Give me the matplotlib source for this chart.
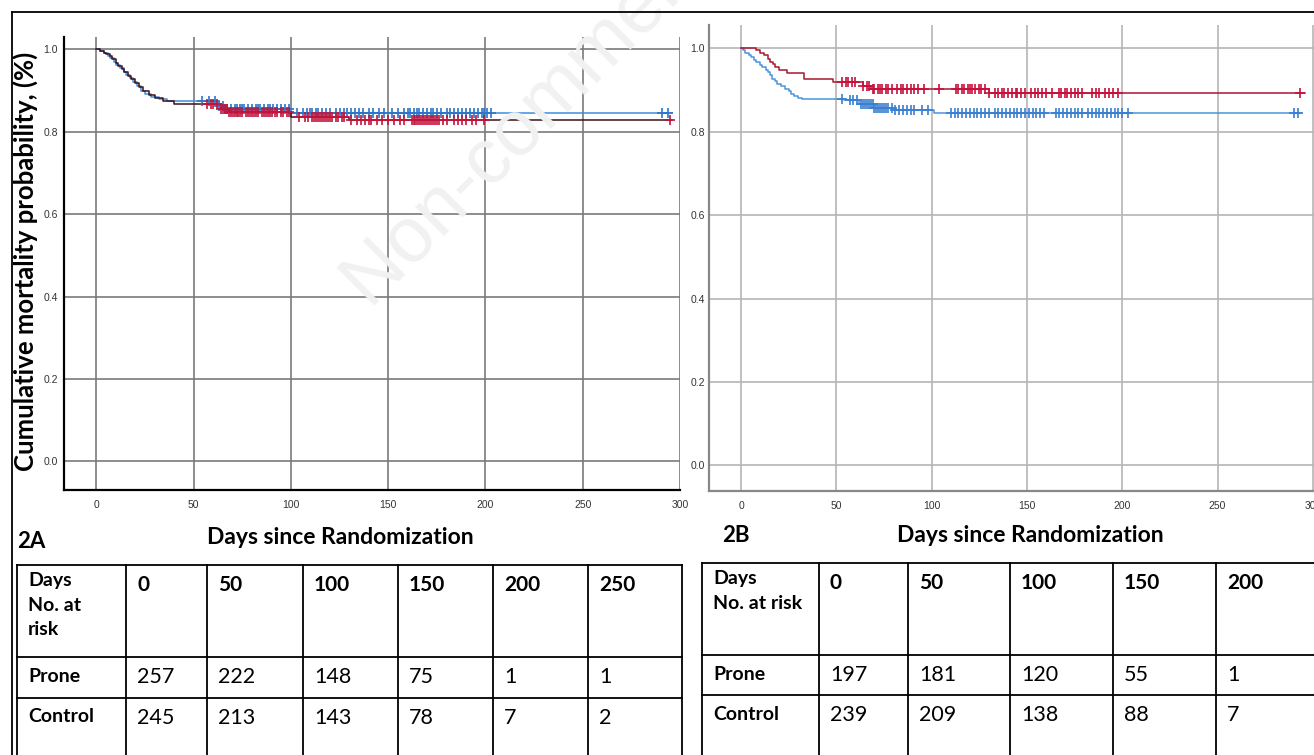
import numpy as np
import matplotlib
matplotlib.use('Agg')
import matplotlib.pyplot as plt

W, H = 1314, 755

# ---- Kaplan-Meier steps ----
# 2A
a_red_t = [0, 2, 4, 5, 7, 8, 10, 11, 13, 14, 16, 18, 20, 22, 24, 27, 30, 34, 40, 64, 68, 100, 130]
a_red_s = [1.0, 0.996, 0.992, 0.988, 0.984, 0.976, 0.968, 0.96, 0.952, 0.944, 0.936, 0.928,
           0.918, 0.908, 0.898, 0.89, 0.882, 0.875, 0.867, 0.855, 0.849, 0.836, 0.828]
a_red_end = 296
a_red_cens = [57, 59, 60, 62, 64, 65, 66, 67, 68, 69, 70, 71, 72, 73, 74, 75, 77, 78, 79, 80,
              81, 82, 83, 85, 86, 87, 88, 89, 90, 92, 93, 95, 96, 98, 99, 104, 107, 109, 111,
              112, 113, 114, 115, 116, 117, 118, 119, 120, 121, 123, 124, 126, 127, 131, 134,
              136, 138, 140, 141, 144, 147, 150, 153, 156, 158, 162, 163, 164, 165, 166, 167,
              168, 169, 170, 171, 172, 173, 174, 175, 176, 178, 180, 184, 186, 188, 190, 193,
              195, 199, 295]

a_blue_t = [0, 2, 4, 6, 7, 9, 10, 12, 14, 15, 17, 19, 21, 23, 25, 28, 32, 36, 62, 66, 100]
a_blue_s = [1.0, 0.996, 0.99, 0.984, 0.978, 0.97, 0.962, 0.954, 0.946, 0.938, 0.93, 0.92,
            0.91, 0.9, 0.892, 0.885, 0.879, 0.875, 0.862, 0.855, 0.845]
a_blue_end = 296
a_blue_cens = [54, 58, 61, 63, 65, 66, 67, 69, 71, 72, 74, 75, 76, 78, 80, 82, 83, 84, 86, 88,
               89, 91, 93, 95, 97, 99, 103, 106, 108, 110, 111, 113, 114, 116, 118, 120, 123,
               125, 127, 129, 131, 133, 135, 137, 140, 142, 145, 148, 152, 155, 158, 160, 161,
               163, 165, 166, 168, 170, 172, 173, 175, 177, 180, 182, 184, 186, 188, 190, 192,
               194, 196, 198, 199, 201, 203, 291, 294]

# 2B
b_red_t = [0, 8, 10, 12, 14, 15, 17, 18, 20, 24, 33, 48, 64, 68, 130]
b_red_s = [1.0, 0.995, 0.99, 0.984, 0.975, 0.968, 0.962, 0.956, 0.948, 0.94, 0.926, 0.92,
           0.91, 0.902, 0.894]
b_red_end = 296
b_red_cens = [53, 55, 56, 58, 60, 64, 66, 67, 69, 70, 72, 73, 74, 76, 77, 79, 82, 84, 85, 87,
              89, 91, 93, 96, 104, 113, 114, 116, 117, 119, 120, 121, 123, 125, 126, 128, 130,
              133, 135, 137, 138, 140, 142, 144, 145, 147, 149, 152, 154, 156, 158, 160, 163,
              167, 168, 170, 171, 173, 175, 177, 179, 184, 186, 188, 191, 193, 195, 198, 293]

b_blue_t = [0, 1, 2, 4, 5, 7, 8, 10, 11, 13, 14, 15, 16, 18, 19, 21, 23, 25, 26, 28, 30, 32,
            54, 62, 70, 80, 101]
b_blue_s = [1.0, 0.995, 0.99, 0.985, 0.979, 0.973, 0.967, 0.96, 0.955, 0.948, 0.943, 0.935,
            0.927, 0.921, 0.915, 0.909, 0.903, 0.897, 0.891, 0.885, 0.882, 0.879, 0.875, 0.866,
            0.858, 0.853, 0.845]
b_blue_end = 294
b_blue_cens = [53, 57, 59, 61, 63, 64, 65, 66, 67, 68, 69, 70, 71, 72, 73, 74, 75, 76, 77, 79,
               81, 83, 85, 87, 89, 91, 95, 98, 110, 112, 114, 116, 118, 120, 122, 124, 126,
               128, 130, 133, 135, 137, 139, 141, 143, 145, 147, 149, 151, 153, 155, 157, 159,
               165, 167, 169, 171, 173, 175, 177, 179, 182, 184, 186, 188, 190, 192, 194, 196,
               198, 200, 203, 290, 292]

# ---- numbers at risk ----
days_a = [0, 50, 100, 150, 200, 250]
prone_a = [257, 222, 148, 75, 1, 1]
control_a = [245, 213, 143, 78, 7, 2]
days_b = [0, 50, 100, 150, 200]
prone_b = [197, 181, 120, 55, 1]
control_b = [239, 209, 138, 88, 7]

xticks = [0, 50, 100, 150, 200, 250, 300]
yticks = [0.0, 0.2, 0.4, 0.6, 0.8, 1.0]

fig = plt.figure(figsize=(W / 100, H / 100), dpi=100)
fig.patch.set_facecolor('white')


def px_axes(x0, y0, x1, y1):
    return fig.add_axes([x0 / W, 1 - y1 / H, (x1 - x0) / W, (y1 - y0) / H])


def km(ax, t, s, end, cens, line_c, mark_c, lw=1.1):
    tt = list(t) + [end]
    ss = list(s) + [s[-1]]
    ax.step(tt, ss, where='post', color=line_c, lw=lw, zorder=3)
    idx = np.searchsorted(t, cens, side='right') - 1
    cy = np.array(s)[idx]
    ax.plot(cens, cy, ls='none', marker='+', ms=7.5, mew=1.2, color=mark_c, zorder=4)


def style(ax, gridc, spinec, xlim, ylim, ypad):
    ax.set_xlim(*xlim)
    ax.set_ylim(*ylim)
    ax.set_xticks(xticks)
    ax.set_yticks(yticks)
    ax.set_yticklabels([f'{v:.1f}' for v in yticks])
    ax.grid(True, color=gridc, lw=1.2)
    ax.set_axisbelow(True)
    for sp in ['top', 'right']:
        ax.spines[sp].set_visible(False)
    for sp in ['left', 'bottom']:
        ax.spines[sp].set_color(spinec)
        ax.spines[sp].set_linewidth(1.6)
    ax.tick_params(length=0, labelsize=7.5, labelcolor='#333333')
    ax.tick_params(axis='x', pad=7)
    ax.tick_params(axis='y', pad=ypad)
    for lab in ax.get_xticklabels() + ax.get_yticklabels():
        lab.set_family('Liberation Sans')


# ---- panel 2A ----
ax_a = px_axes(64, 37, 680, 490)
style(ax_a, '#7a7a7a', 'black', (-16.7, 298.7), (-0.0697, 1.03), 4.5)
km(ax_a, a_blue_t, a_blue_s, a_blue_end, a_blue_cens, '#3d8ddc', '#2e74c8')
km(ax_a, a_red_t, a_red_s, a_red_end, a_red_cens, '#3a1218', '#c0143c')

# ---- panel 2B ----
ax_b = px_axes(709, 25, 1314, 491)
style(ax_b, '#b5b5b5', '#888888', (-16.8, 300.6), (-0.0616, 1.056), 3)
km(ax_b, b_blue_t, b_blue_s, b_blue_end, b_blue_cens, '#4a95dc', '#3a7fd0')
km(ax_b, b_red_t, b_red_s, b_red_end, b_red_cens, '#a8182e', '#c8103c')

# ---- overlay for text, borders and tables ----
ov = fig.add_axes([0, 0, 1, 1], zorder=5)
ov.set_xlim(0, W)
ov.set_ylim(H, 0)
ov.axis('off')

ov.plot([12, W], [12, 12], color='black', lw=1.3)
ov.plot([12, 12], [12, H], color='black', lw=1.3)

lab_font = 'Lato'
ov.text(25, 261, 'Cumulative mortality probability, (%)', rotation=90, ha='center',
        va='center', fontsize=18.5, fontweight='bold', family=lab_font)
ov.text(17, 541, '2A', ha='left', va='center', fontsize=16, fontweight='bold', family=lab_font)
ov.text(340, 537, 'Days since Randomization', ha='center', va='center', fontsize=16.5,
        fontweight='bold', family=lab_font)
ov.text(722, 535, '2B', ha='left', va='center', fontsize=16, fontweight='bold', family=lab_font)
ov.text(1030, 536, 'Days since Randomization', ha='center', va='center', fontsize=16.5,
        fontweight='bold', family=lab_font)

# watermark
ov.text(330, 305, 'Non-commercial use only', rotation=45, ha='left', va='baseline',
        fontsize=56, color='#f1f1f1', family='Liberation Sans', zorder=0)


def table(cols, rows, head, days, prone, control, head_top):
    for x in cols:
        ov.plot([x, x], [rows[0], H], color='black', lw=1.3)
    for y in rows:
        ov.plot([cols[0], cols[-1]], [y, y], color='black', lw=1.3)
    ov.text(cols[0] + 11, head_top, head, ha='left', va='top', fontsize=14,
            fontweight='bold', family=lab_font, linespacing=1.55)
    for i, d in enumerate(days):
        x = cols[i + 1] + 11
        ov.text(x, rows[0] + 20, str(d), ha='left', va='center', fontsize=15,
                fontweight='bold', family=lab_font)
        ov.text(x, rows[1] + 20, str(prone[i]), ha='left', va='center', fontsize=15.5,
                family=lab_font)
        ov.text(x, rows[2] + 20, str(control[i]), ha='left', va='center', fontsize=15.5,
                family=lab_font)
    ov.text(cols[0] + 11, rows[1] + 19, 'Prone', ha='left', va='center', fontsize=14,
            fontweight='bold', family=lab_font)
    ov.text(cols[0] + 11, rows[2] + 19, 'Control', ha='left', va='center', fontsize=14,
            fontweight='bold', family=lab_font)


table([17, 126, 207, 303, 398, 493, 588, 682], [565, 657, 698], 'Days\nNo. at\nrisk',
      days_a, prone_a, control_a, 572)
table([702, 819, 908, 1010, 1113, 1216, 1316], [563, 655, 695], 'Days\nNo. at risk',
      days_b, prone_b, control_b, 570)

fig.savefig('out.png', dpi=100, facecolor='white')
